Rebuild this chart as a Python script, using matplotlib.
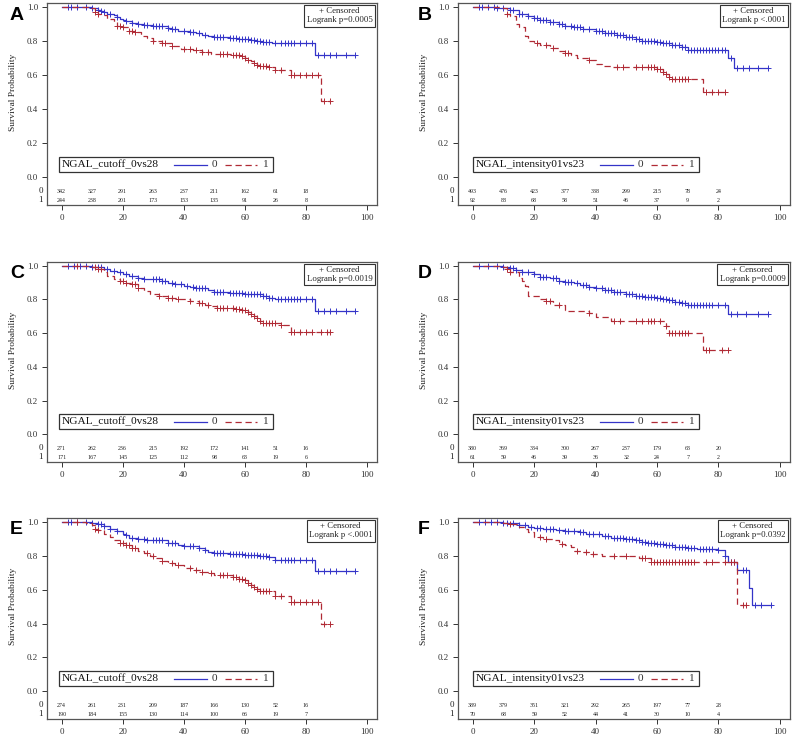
import numpy as np
import matplotlib
matplotlib.use("Agg")
import matplotlib.pyplot as plt
from matplotlib.patches import Rectangle

plt.rcParams["font.family"] = ["Liberation Serif", "DejaVu Serif"]

# ---- data ----
panel_letters = ["A", "B", "C", "D", "E", "F"]
group_var = ["NGAL_cutoff_0vs28", "NGAL_intensity01vs23",
             "NGAL_cutoff_0vs28", "NGAL_intensity01vs23",
             "NGAL_cutoff_0vs28", "NGAL_intensity01vs23"]
logrank = ["p=0.0005", "p <.0001", "p=0.0019", "p=0.0009", "p <.0001", "p=0.0392"]
risk_times = [0, 10, 20, 30, 40, 50, 60, 70, 80]

# at-risk tables (group 0, group 1)
risk_A = [[342, 327, 291, 263, 237, 211, 162, 61, 18], [244, 238, 201, 173, 153, 135, 91, 26, 8]]
risk_B = [[493, 476, 423, 377, 338, 299, 215, 78, 24], [92, 88, 68, 58, 51, 46, 37, 9, 2]]
risk_C = [[271, 262, 236, 215, 192, 172, 141, 51, 16], [171, 167, 145, 125, 112, 98, 63, 19, 6]]
risk_D = [[380, 369, 334, 300, 267, 237, 179, 63, 20], [61, 59, 46, 39, 36, 32, 24, 7, 2]]
risk_E = [[274, 261, 231, 209, 187, 166, 130, 52, 16], [190, 184, 155, 130, 114, 100, 66, 19, 7]]
risk_F = [[389, 379, 351, 321, 292, 265, 197, 77, 28], [70, 68, 59, 52, 44, 41, 30, 10, 4]]

# KM step knots (time, survival after drop) and censor times
A0_t = [0, 10, 12, 13, 14, 15, 16, 17, 18, 19, 20, 21, 23, 25, 27, 30, 33, 35, 36, 38, 40, 42, 44, 46, 48, 50, 55, 58, 62, 64, 66, 69, 83]
A0_s = [1.0, 0.99, 0.98, 0.975, 0.97, 0.96, 0.955, 0.95, 0.94, 0.93, 0.925, 0.915, 0.905, 0.90, 0.895, 0.89, 0.885, 0.875, 0.87, 0.86, 0.855, 0.85, 0.845, 0.835, 0.83, 0.82, 0.815, 0.81, 0.805, 0.80, 0.795, 0.785, 0.715]
A0_c = [2, 3, 5, 8, 10, 12, 13, 14, 16, 18, 21, 23, 25, 27, 28, 30, 31, 32, 33, 35, 36, 37, 40, 42, 43, 45, 47, 50, 51, 52, 53, 55, 56, 57, 58, 59, 60, 61, 62, 63, 64, 65, 66, 67, 68, 70, 72, 73, 74, 75, 76, 78, 80, 82, 84, 86, 88, 90, 93, 96]
A1_t = [0, 9, 11, 12, 13, 15, 17, 18, 20, 22, 24, 26, 28, 30, 33, 36, 39, 43, 46, 49, 56, 59, 60, 61, 62, 63, 64, 65, 68, 70, 75, 85]
A1_s = [1.0, 0.99, 0.97, 0.96, 0.95, 0.93, 0.91, 0.89, 0.88, 0.86, 0.85, 0.83, 0.815, 0.80, 0.785, 0.77, 0.755, 0.745, 0.735, 0.72, 0.715, 0.71, 0.70, 0.69, 0.68, 0.67, 0.66, 0.65, 0.645, 0.63, 0.60, 0.45]
A1_c = [11, 12, 18, 19, 20, 22, 23, 24, 30, 33, 34, 36, 40, 42, 44, 46, 48, 52, 53, 54, 56, 57, 58, 59, 60, 61, 63, 64, 65, 66, 67, 68, 70, 72, 75, 76, 78, 80, 82, 84, 86, 88]

B0_t = [0, 8, 10, 12, 15, 18, 20, 22, 25, 28, 30, 33, 36, 40, 43, 47, 50, 53, 55, 60, 62, 65, 68, 70, 83, 85]
B0_s = [1.0, 0.995, 0.99, 0.98, 0.96, 0.945, 0.935, 0.925, 0.91, 0.90, 0.89, 0.88, 0.87, 0.855, 0.845, 0.835, 0.82, 0.81, 0.80, 0.795, 0.785, 0.775, 0.765, 0.745, 0.70, 0.64]
B0_c = [2, 3, 5, 7, 8, 10, 12, 13, 15, 16, 18, 20, 21, 22, 23, 24, 25, 26, 28, 29, 30, 32, 33, 34, 35, 36, 38, 40, 41, 42, 43, 44, 45, 46, 47, 48, 49, 50, 51, 52, 53, 54, 55, 56, 57, 58, 59, 60, 61, 62, 63, 64, 65, 66, 67, 68, 69, 70, 71, 72, 73, 74, 75, 76, 77, 78, 79, 80, 81, 82, 84, 86, 88, 90, 93, 96]
B1_t = [0, 10, 11, 12, 14, 15, 17, 18, 20, 22, 25, 28, 30, 32, 34, 38, 40, 42, 45, 60, 62, 63, 64, 65, 75]
B1_s = [1.0, 0.99, 0.96, 0.945, 0.90, 0.88, 0.83, 0.80, 0.79, 0.775, 0.76, 0.74, 0.73, 0.715, 0.70, 0.69, 0.665, 0.655, 0.645, 0.635, 0.62, 0.605, 0.59, 0.575, 0.50]
B1_c = [11, 21, 24, 26, 30, 31, 38, 47, 49, 53, 55, 57, 58, 59, 60, 61, 62, 63, 64, 65, 66, 67, 68, 69, 70, 76, 78, 80, 82]

C0_t = [0, 10, 12, 14, 16, 18, 20, 22, 25, 27, 33, 35, 37, 40, 42, 44, 46, 48, 50, 55, 60, 64, 66, 68, 70, 83]
C0_s = [1.0, 0.995, 0.99, 0.98, 0.97, 0.96, 0.95, 0.94, 0.93, 0.92, 0.91, 0.90, 0.89, 0.88, 0.875, 0.87, 0.865, 0.855, 0.845, 0.84, 0.835, 0.83, 0.82, 0.81, 0.805, 0.73]
C0_c = [2, 4, 6, 8, 10, 12, 13, 15, 17, 19, 21, 23, 25, 27, 30, 31, 32, 33, 34, 36, 37, 39, 41, 43, 44, 45, 46, 47, 50, 51, 52, 53, 55, 56, 57, 58, 59, 60, 61, 62, 63, 64, 65, 66, 67, 68, 69, 71, 72, 73, 74, 75, 76, 77, 78, 80, 82, 84, 86, 88, 90, 93, 96]
C1_t = [0, 10, 11, 12, 14, 15, 17, 19, 21, 23, 25, 27, 29, 32, 35, 38, 42, 45, 47, 49, 51, 57, 59, 61, 62, 63, 64, 65, 66, 72, 75]
C1_s = [1.0, 0.995, 0.99, 0.98, 0.96, 0.94, 0.92, 0.91, 0.90, 0.89, 0.87, 0.85, 0.83, 0.82, 0.81, 0.80, 0.79, 0.78, 0.77, 0.76, 0.75, 0.745, 0.735, 0.725, 0.715, 0.70, 0.69, 0.675, 0.66, 0.65, 0.61]
C1_c = [5, 11, 12, 13, 19, 20, 21, 23, 24, 25, 32, 35, 36, 38, 42, 45, 46, 48, 51, 52, 53, 54, 56, 57, 58, 59, 60, 61, 62, 63, 64, 65, 66, 67, 68, 69, 70, 72, 75, 76, 78, 80, 82, 85, 87, 88]

D0_t = [0, 10, 12, 14, 16, 18, 20, 22, 25, 28, 30, 33, 35, 38, 40, 43, 46, 50, 53, 56, 60, 62, 64, 66, 68, 70, 83]
D0_s = [1.0, 0.995, 0.985, 0.975, 0.965, 0.96, 0.95, 0.935, 0.925, 0.91, 0.905, 0.895, 0.885, 0.875, 0.865, 0.855, 0.845, 0.83, 0.82, 0.815, 0.81, 0.80, 0.795, 0.785, 0.78, 0.77, 0.715]
D0_c = [2, 5, 8, 10, 12, 13, 14, 16, 18, 20, 22, 23, 24, 26, 27, 28, 30, 31, 32, 34, 36, 37, 38, 40, 42, 43, 44, 45, 46, 47, 48, 50, 51, 52, 53, 54, 55, 56, 57, 58, 59, 60, 61, 62, 63, 64, 65, 66, 67, 68, 69, 70, 71, 72, 73, 74, 75, 76, 77, 78, 80, 82, 84, 86, 89, 93, 96]
D1_t = [0, 10, 11, 12, 15, 16, 17, 18, 22, 24, 26, 30, 31, 38, 40, 45, 63, 64, 75]
D1_s = [1.0, 0.99, 0.98, 0.965, 0.93, 0.91, 0.88, 0.82, 0.80, 0.79, 0.77, 0.74, 0.73, 0.72, 0.695, 0.67, 0.64, 0.60, 0.50]
D1_c = [11, 12, 24, 25, 28, 38, 46, 48, 53, 55, 57, 58, 59, 61, 63, 64, 65, 66, 67, 68, 69, 70, 76, 77, 81, 83]

E0_t = [0, 10, 12, 14, 16, 18, 20, 21, 22, 25, 28, 35, 38, 40, 45, 47, 48, 50, 55, 60, 65, 68, 70, 83]
E0_s = [1.0, 0.99, 0.985, 0.975, 0.96, 0.945, 0.93, 0.92, 0.905, 0.90, 0.89, 0.875, 0.865, 0.855, 0.845, 0.835, 0.82, 0.815, 0.81, 0.805, 0.80, 0.79, 0.775, 0.71]
E0_c = [2, 3, 5, 8, 10, 12, 13, 14, 16, 18, 21, 23, 25, 27, 28, 30, 31, 32, 33, 35, 36, 37, 40, 42, 43, 45, 47, 50, 51, 52, 53, 55, 56, 57, 58, 59, 60, 61, 62, 63, 64, 65, 66, 67, 68, 70, 72, 73, 74, 75, 76, 78, 80, 82, 84, 86, 88, 90, 93, 96]
E1_t = [0, 8, 10, 11, 12, 14, 16, 17, 19, 21, 23, 25, 27, 29, 31, 33, 35, 37, 40, 43, 46, 48, 50, 56, 58, 60, 61, 62, 63, 64, 65, 70, 75, 85]
E1_s = [1.0, 0.99, 0.98, 0.96, 0.95, 0.93, 0.91, 0.89, 0.875, 0.865, 0.845, 0.83, 0.815, 0.80, 0.785, 0.77, 0.755, 0.745, 0.725, 0.715, 0.705, 0.695, 0.685, 0.675, 0.665, 0.655, 0.64, 0.625, 0.615, 0.605, 0.59, 0.565, 0.525, 0.395]
E1_c = [5, 11, 12, 19, 20, 21, 22, 23, 24, 28, 30, 33, 36, 38, 42, 44, 46, 49, 52, 53, 54, 56, 57, 58, 59, 60, 61, 62, 63, 64, 65, 66, 67, 68, 70, 72, 75, 76, 78, 80, 82, 84, 86, 88]

F0_t = [0, 10, 12, 15, 18, 20, 23, 27, 30, 35, 37, 40, 42, 45, 50, 53, 55, 57, 60, 63, 66, 70, 73, 80, 82, 83, 86, 90, 91]
F0_s = [1.0, 0.995, 0.99, 0.98, 0.97, 0.965, 0.955, 0.95, 0.945, 0.94, 0.93, 0.925, 0.915, 0.905, 0.90, 0.895, 0.88, 0.875, 0.87, 0.86, 0.85, 0.845, 0.84, 0.835, 0.80, 0.765, 0.715, 0.61, 0.51]
F0_c = [2, 4, 6, 8, 10, 11, 13, 15, 17, 19, 21, 22, 24, 25, 26, 28, 30, 31, 33, 35, 36, 38, 39, 41, 43, 44, 46, 47, 48, 49, 50, 51, 52, 53, 54, 55, 56, 57, 58, 59, 60, 61, 62, 63, 64, 65, 66, 67, 68, 69, 70, 71, 72, 74, 75, 76, 77, 78, 80, 82, 84, 85, 88, 89, 92, 94, 97]
F1_t = [0, 10, 12, 15, 17, 18, 20, 23, 26, 28, 30, 32, 33, 36, 38, 42, 54, 58, 86]
F1_s = [1.0, 0.995, 0.985, 0.97, 0.955, 0.94, 0.91, 0.90, 0.89, 0.87, 0.86, 0.85, 0.83, 0.82, 0.81, 0.80, 0.785, 0.765, 0.51]
F1_c = [12, 22, 24, 29, 34, 37, 39, 46, 50, 55, 56, 58, 59, 60, 61, 62, 63, 64, 65, 66, 67, 68, 69, 70, 71, 72, 76, 78, 82, 84, 85, 88, 89]

curves = {
    "A": [(A0_t, A0_s, A0_c), (A1_t, A1_s, A1_c)],
    "B": [(B0_t, B0_s, B0_c), (B1_t, B1_s, B1_c)],
    "C": [(C0_t, C0_s, C0_c), (C1_t, C1_s, C1_c)],
    "D": [(D0_t, D0_s, D0_c), (D1_t, D1_s, D1_c)],
    "E": [(E0_t, E0_s, E0_c), (E1_t, E1_s, E1_c)],
    "F": [(F0_t, F0_s, F0_c), (F1_t, F1_s, F1_c)],
}
risks = {"A": risk_A, "B": risk_B, "C": risk_C, "D": risk_D, "E": risk_E, "F": risk_F}

BLUE = "#3434c8"
RED = "#b02a35"
FRAME = "#555555"
colors = [BLUE, RED]
styles = ["-", (0, (5, 3))]

W, H = 793, 737
fig = plt.figure(figsize=(W / 100, H / 100), dpi=100)

# panel frames in pixels: (left, top, right, bottom)
col_x = [(47, 377), (458, 790)]
row_y = [(3, 205), (262, 462), (518, 719)]

renderer = fig.canvas.get_renderer()

for i, letter in enumerate(panel_letters):
    r, c = divmod(i, 2)
    l, rr = col_x[c]
    t, b = row_y[r]
    ax = fig.add_axes([l / W, 1 - b / H, (rr - l) / W, (b - t) / H])

    ax.set_xlim(-4.8, 103.3)
    ax.set_ylim(-0.163, 1.022)
    for sp in ax.spines.values():
        sp.set_color(FRAME)
        sp.set_linewidth(0.9)
    ax.set_xticks([0, 20, 40, 60, 80, 100])
    ax.set_yticks([0.0, 0.2, 0.4, 0.6, 0.8, 1.0])
    ax.set_yticklabels(["0.0", "0.2", "0.4", "0.6", "0.8", "1.0"])
    ax.tick_params(axis="both", labelsize=6.5, colors="#333333", length=3.5, width=0.7, pad=3)
    ax.set_ylabel("Survival Probability", fontsize=6.8, color="#222222")
    ax.yaxis.set_label_coords(-0.09, 0.56)

    for g, (tt, ss, cc) in enumerate(curves[letter]):
        end = max(cc)
        xs = list(tt) + [end]
        ys = list(ss) + [ss[-1]]
        ax.step(xs, ys, where="post", color=colors[g], linestyle=styles[g], lw=0.9)
        idx = np.searchsorted(tt, cc, side="right") - 1
        cy = np.array(ss)[idx]
        ax.plot(cc, cy, linestyle="none", marker="+", ms=4.5, mew=0.7, color=colors[g])

    # at-risk table
    for g, row in enumerate(risks[letter]):
        yv = -0.082 - 0.053 * g
        for tm, n in zip(risk_times, row):
            ax.text(tm, yv, str(n), ha="center", va="center", fontsize=4.3, color="#222222")
        ax.text(-6.9, yv, str(g), ha="center", va="center", fontsize=6.5, color="#222222", clip_on=False)

    # censored / logrank box
    ax.text(0.986, 0.978, "+ Censored\nLogrank " + logrank[i], transform=ax.transAxes,
            ha="right", va="top", multialignment="center", fontsize=6.3, color="#222222",
            linespacing=1.15,
            bbox=dict(boxstyle="square,pad=0.25", fc="white", ec="#333333", lw=0.8))

    # legend box built from pixel offsets
    aw, ah = rr - l, b - t

    def ax_x(px):
        return (px - l) / aw

    def ax_y(py):
        return (b - py) / ah

    box_l = l + (12 if c == 0 else 15)
    box_top, box_bot = b - 48, b - 33
    yc = ax_y((box_top + box_bot) / 2)
    txt = ax.text(ax_x(box_l + 3), yc, group_var[i], transform=ax.transAxes,
                  ha="left", va="center", fontsize=8.2, color="#111111")
    ext = txt.get_window_extent(renderer=renderer)
    x_end = ext.x1
    x1 = x_end + 15
    ax.plot([ax_x(x1), ax_x(x1 + 33)], [yc, yc], transform=ax.transAxes, color=BLUE, lw=0.9)
    ax.text(ax_x(x1 + 40), yc, "0", transform=ax.transAxes, ha="center", va="center",
            fontsize=8.2, color="#333333")
    x2 = x1 + 51
    ax.plot([ax_x(x2), ax_x(x2 + 32)], [yc, yc], transform=ax.transAxes, color=RED, lw=0.9,
            linestyle=(0, (5, 3)))
    ax.text(ax_x(x2 + 40), yc, "1", transform=ax.transAxes, ha="center", va="center",
            fontsize=8.2, color="#333333")
    box_r = x2 + 48
    ax.add_patch(Rectangle((ax_x(box_l), ax_y(box_bot)), ax_x(box_r) - ax_x(box_l),
                           ax_y(box_top) - ax_y(box_bot), transform=ax.transAxes,
                           fill=False, ec="#333333", lw=0.9))

    # panel letter
    lx = 10 if c == 0 else 418
    ly = t + 12
    fig.text(lx / W, 1 - ly / H, letter, ha="left", va="center", fontsize=14,
             fontweight="bold", family="Liberation Sans")

fig.savefig("out.png", dpi=100)
